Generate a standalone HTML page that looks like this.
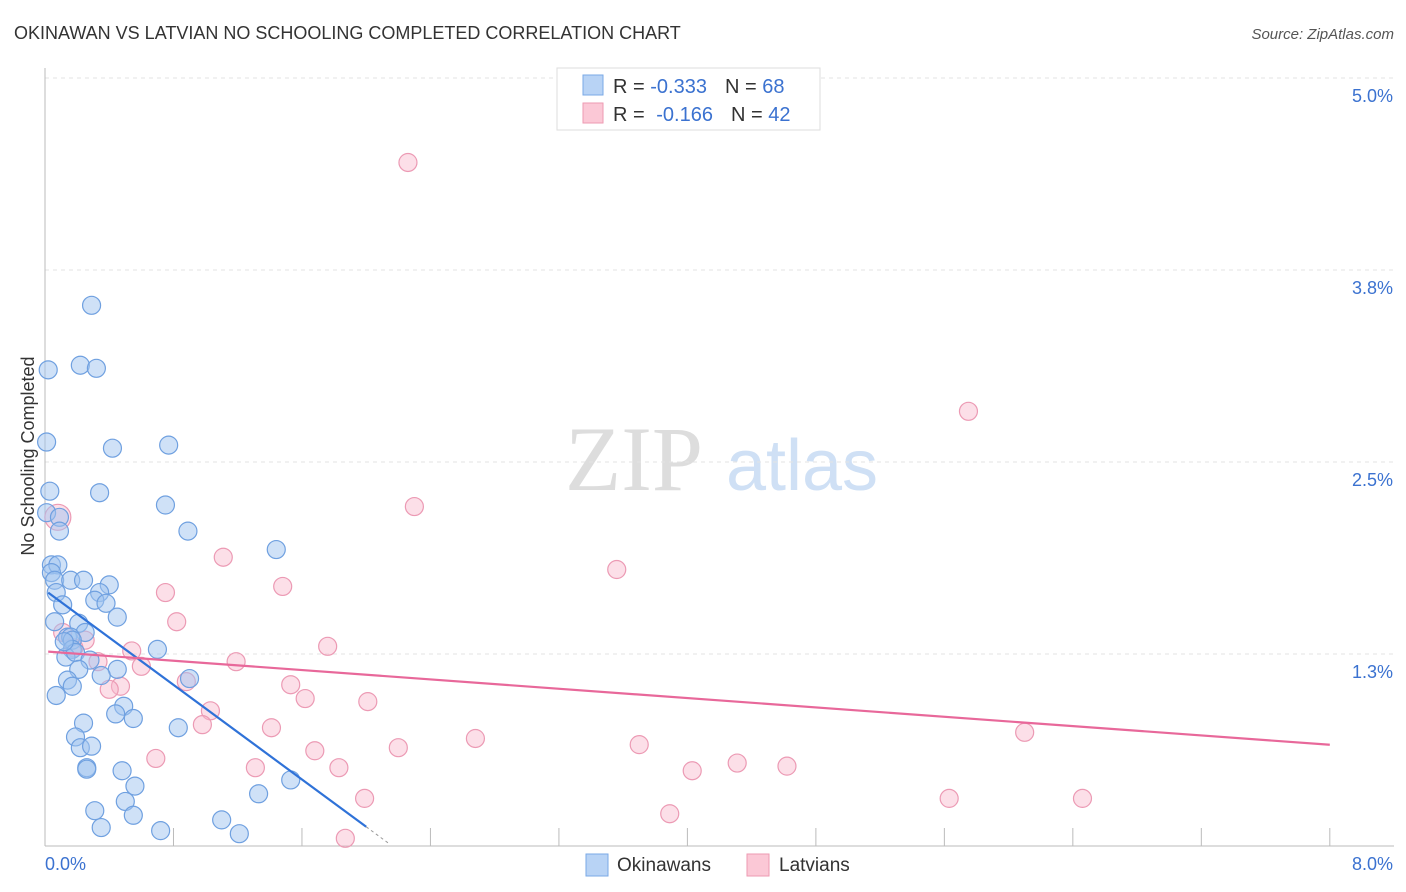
<!DOCTYPE html>
<html><head><meta charset="utf-8"><style>
body{margin:0;background:#fff;font-family:"Liberation Sans",sans-serif}
svg{display:block}
</style></head><body>
<svg id="c" width="1406" height="892">
<text x="14" y="39" font-size="18" fill="#333">OKINAWAN VS LATVIAN NO SCHOOLING COMPLETED CORRELATION CHART</text>
<text x="1394" y="39" font-size="15" fill="#555" font-style="italic" text-anchor="end">Source: ZipAtlas.com</text>
<text x="34" y="456" font-size="18" fill="#333" text-anchor="middle" transform="rotate(-90 34 456)">No Schooling Completed</text>
<g>
<text x="634" y="490" font-size="92" fill="#ddd" font-family="Liberation Serif,serif" text-anchor="middle">ZIP</text>
<text x="802" y="490" font-size="72" fill="#cfe0f5" text-anchor="middle">atlas</text>
</g>
<g id="grid"></g><g id="pts"></g><g id="lines"></g>
<g>
<rect x="557" y="68" width="263" height="62" fill="#fff" stroke="#ddd"/>
<rect x="583" y="75" width="20" height="20" fill="#b8d3f5" stroke="#7aa8e6"/>
<rect x="583" y="103" width="20" height="20" fill="#fbc8d6" stroke="#ee9ab2"/>
<text x="613" y="93" font-size="20" fill="#333">R = <tspan fill="#3b72d0">-0.333</tspan><tspan dx="18">N = </tspan><tspan fill="#3b72d0">68</tspan></text>
<text x="613" y="121" font-size="20" fill="#333">R = <tspan fill="#3b72d0" dx="6">-0.166</tspan><tspan dx="18">N = </tspan><tspan fill="#3b72d0">42</tspan></text>
</g>
<g>
<rect x="586" y="854" width="22" height="22" fill="#b8d3f5" stroke="#7aa8e6"/>
<text x="617" y="871" font-size="19" fill="#333">Okinawans</text>
<rect x="747" y="854" width="22" height="22" fill="#fbc8d6" stroke="#ee9ab2"/>
<text x="779" y="871" font-size="19" fill="#333">Latvians</text>
</g>
</svg>
<script>
const yTicks=[1.25,2.5,3.75,5.0];
const yTickLabels=["1.3%","2.5%","3.8%","5.0%"];
const xTickLabels=["0.0%","8.0%"];
const blueX=[0.29,0.02,0.22,0.32,0.01,0.42,0.77,0.03,0.34,0.75,0.01,0.09,0.09,0.89,1.44,0.04,0.08,0.04,0.06,0.16,0.24,0.40,0.07,0.34,0.31,0.38,0.11,0.45,0.06,0.21,0.25,0.14,0.16,0.17,0.70,0.17,0.13,0.19,0.28,0.45,0.21,0.35,0.90,0.14,0.17,0.07,0.49,0.44,0.55,0.24,0.83,0.19,0.22,0.29,0.26,0.26,0.48,1.53,0.56,1.33,0.50,0.31,0.55,1.10,0.35,0.72,1.21,0.12];
const blueY=[3.52,3.10,3.13,3.11,2.63,2.59,2.61,2.31,2.30,2.22,2.17,2.14,2.05,2.05,1.93,1.83,1.83,1.78,1.73,1.73,1.73,1.70,1.65,1.65,1.60,1.58,1.57,1.49,1.46,1.45,1.39,1.36,1.36,1.34,1.28,1.28,1.23,1.26,1.21,1.15,1.15,1.11,1.09,1.08,1.04,0.98,0.91,0.86,0.83,0.80,0.77,0.71,0.64,0.65,0.51,0.50,0.49,0.43,0.39,0.34,0.29,0.23,0.20,0.17,0.12,0.10,0.08,1.33];
const pinkX=[2.26,5.75,2.30,3.56,0.08,1.11,1.48,0.75,0.82,0.11,0.25,0.54,0.18,1.76,0.33,0.60,1.19,0.88,0.47,0.40,1.53,1.62,2.01,1.03,0.98,1.41,6.10,2.68,3.70,1.68,2.20,0.69,4.31,1.31,1.83,4.62,4.03,1.99,5.63,6.46,3.89,1.87];
const pinkY=[4.45,2.83,2.21,1.80,2.14,1.88,1.69,1.65,1.46,1.39,1.34,1.27,1.29,1.30,1.20,1.17,1.20,1.07,1.04,1.02,1.05,0.96,0.94,0.88,0.79,0.77,0.74,0.70,0.66,0.62,0.64,0.57,0.54,0.51,0.51,0.52,0.49,0.31,0.31,0.31,0.21,0.05];
const blueFit=[1.665,-0.77];
const pinkFit=[1.267,-0.076];
const NS="http://www.w3.org/2000/svg";
const X=v=>45+v*160.6, Y=v=>846-v*153.6;
function mk(t,a,p){const e=document.createElementNS(NS,t);for(const k in a)e.setAttribute(k,a[k]);p.appendChild(e);return e;}
const g=document.getElementById('grid');
yTicks.forEach((t,i)=>{
 const l=mk('line',{x1:45,x2:1394,y1:Y(t),y2:Y(t),stroke:'#e3e3e3','stroke-dasharray':'4,4'},g);
 
 
 const tx=mk('text',{x:1393,y:Y(t)+24,'font-size':18,fill:'#3b72d0','text-anchor':'end'},g);tx.textContent=yTickLabels[i];
 
 
});
mk('line',{x1:45,x2:45,y1:68,y2:846,stroke:'#bbb'},g);
mk('line',{x1:45,x2:1394,y1:846,y2:846,stroke:'#bbb'},g);
for(let i=1;i<=10;i++){mk('line',{x1:X(i*0.8),x2:X(i*0.8),y1:828,y2:846,stroke:'#bbb'},g);}
xTickLabels.forEach((s,i)=>{const t=mk('text',{x:i?1393:45,y:870,'font-size':18,fill:'#3b72d0','text-anchor':i?'end':'start'},g);t.textContent=s;
 
 });
const p=document.getElementById('pts');
pinkX.forEach((x,i)=>{const c=mk('circle',{cx:X(x),cy:Y(pinkY[i]),r:i==4?13:9,fill:'rgba(248,185,205,0.45)',stroke:'#ec9ab4','stroke-width':1.2},p);
 
 });
blueX.forEach((x,i)=>{const c=mk('circle',{cx:X(x),cy:Y(blueY[i]),r:9,fill:'rgba(160,196,240,0.5)',stroke:'#6fa0e0','stroke-width':1.2},p);
 
 });
const L=document.getElementById('lines');
const bl=mk('line',{x1:X(0.02),y1:Y(blueFit[0]+blueFit[1]*0.02),x2:X(2.0),y2:Y(blueFit[0]+blueFit[1]*2.0),stroke:'#2f72d8','stroke-width':2.2},L);


mk('line',{x1:X(2.0),y1:Y(blueFit[0]+blueFit[1]*2.0),x2:X(2.14),y2:Y(blueFit[0]+blueFit[1]*2.14),stroke:'#999','stroke-width':1,'stroke-dasharray':'3,3'},L);
const pl=mk('line',{x1:X(0.02),y1:Y(pinkFit[0]+pinkFit[1]*0.02),x2:X(8.0),y2:Y(pinkFit[0]+pinkFit[1]*8.0),stroke:'#e8689a','stroke-width':2.2},L);


</script>
</body></html>
